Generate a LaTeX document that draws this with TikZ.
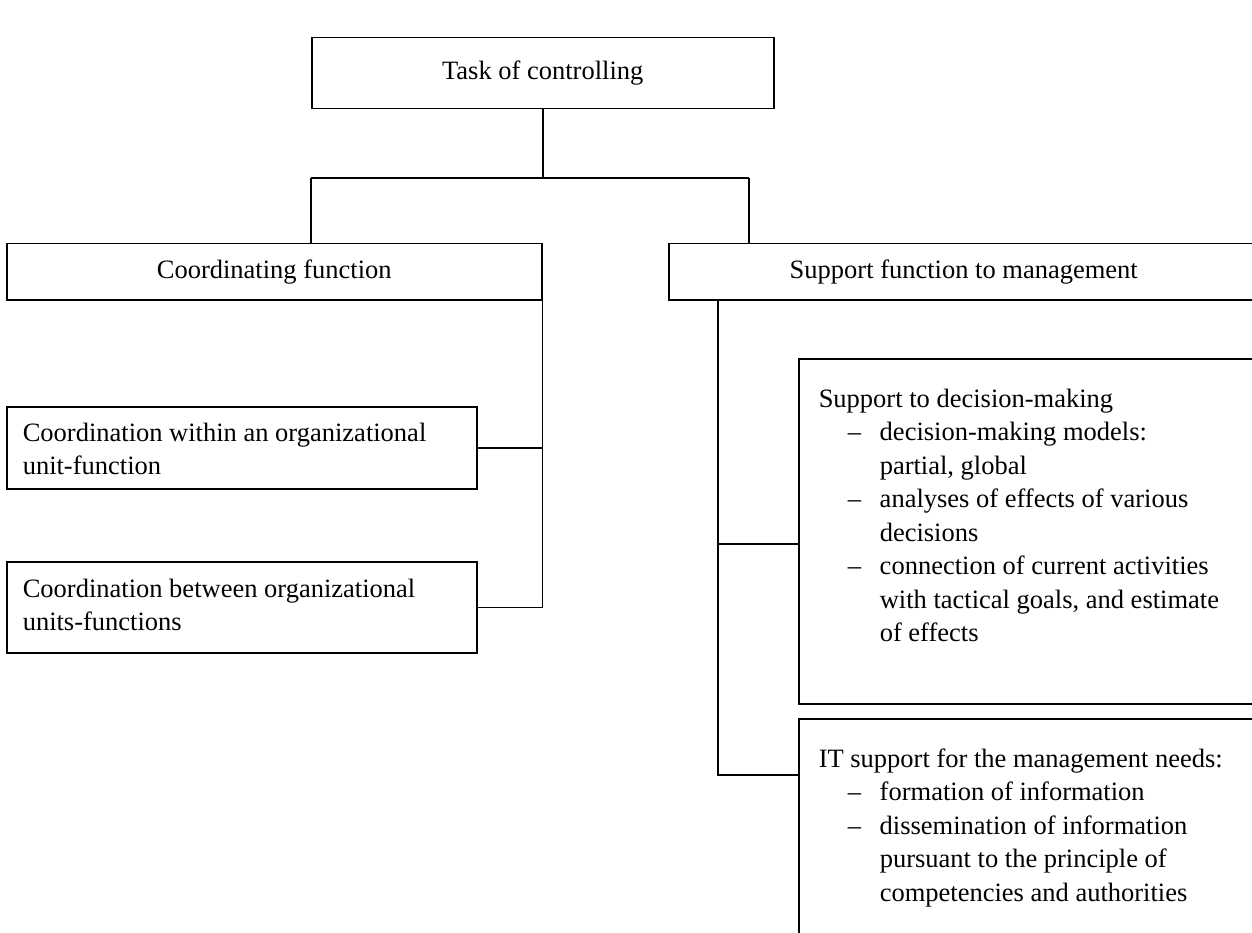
\documentclass[tikz,border=0pt]{standalone}
\usepackage{fontspec}
\setmainfont{Liberation Serif}
\newcommand{\itm}{\hspace*{29pt}\makebox[32pt][l]{–}}
\newcommand{\cnt}{\hspace*{61pt}}
\begin{document}
\begin{tikzpicture}[x=1pt,y=-1pt,line width=1.5pt,
  box/.style={draw,rectangle,inner sep=0pt,anchor=north west,font=\fontsize{26.5}{33.5}\selectfont},
  txt/.style={inner sep=0pt,anchor=north west,align=left,font=\fontsize{26.5}{33.5}\selectfont}]
\useasboundingbox (0,0) rectangle (1252,933);
\clip (0,0) rectangle (1252,933);
% boxes
\node[box,minimum width=462pt,minimum height=71pt] (task) at (311,37) {Task of controlling};
\node[box,minimum width=535pt,minimum height=56pt] (coord) at (6,243) {Coordinating function};
\node[box,minimum width=590pt,minimum height=56pt] (supp) at (668,243) {Support function to management};
\node[box,minimum width=470pt,minimum height=82pt] (b1) at (6,406) {};
\node[box,minimum width=470pt,minimum height=91pt] (b2) at (6,561) {};
\node[box,minimum width=480pt,minimum height=345pt] (dm) at (798,358) {};
\node[box,minimum width=480pt,minimum height=240pt] (it) at (798,718) {};
% texts
\node[txt] (t1) at (22,417) {\strut Coordination within an organizational\\unit-function};
\node[txt] (t2) at (22,573) {\strut Coordination between organizational\\units-functions};
\node[txt] (t3) at (818,383) {\strut Support to decision-making\\
\itm decision-making models:\\
\cnt partial, global\\
\itm analyses of effects of various\\
\cnt decisions\\
\itm connection of current activities\\
\cnt with tactical goals, and estimate\\
\cnt of effects};
\node[txt] (t4) at (818,743) {\strut IT support for the management needs:\\
\itm formation of information\\
\itm dissemination of information\\
\cnt pursuant to the principle of\\
\cnt competencies and authorities};
% connectors
\coordinate (busL) at (311,178);
\coordinate (busR) at (749,178);
\draw (task.south) -- (task.south |- busL);
\draw (busL) -- (busR);
\draw (busL) -- (busL |- coord.north);
\draw (busR) -- (busR |- supp.north);
\draw (coord.south east) |- (b2.east);
\draw (b1.east) -- (b1.east -| coord.south east);
\coordinate (sp) at ([xshift=50pt]supp.south west);
\draw (sp) |- ([yshift=-57pt]it.north west);
\draw ([yshift=-186pt]dm.north west -| sp) -- ([yshift=-186pt]dm.north west);
\end{tikzpicture}
\end{document}
